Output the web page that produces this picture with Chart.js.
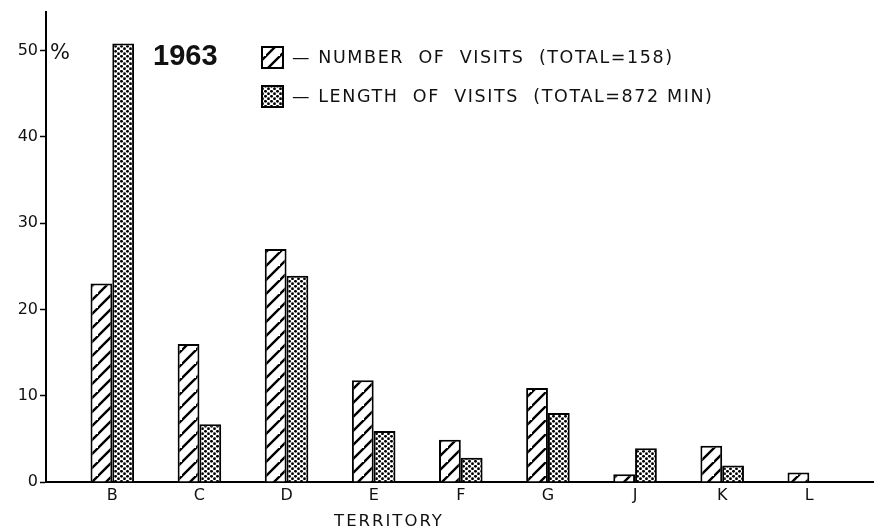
<!DOCTYPE html>
<html>
<head>
<meta charset="utf-8">
<script src="https://cdn.jsdelivr.net/npm/chart.js@4.4.1/dist/chart.umd.min.js"></script>
<style>
  html, body { margin: 0; padding: 0; background: #ffffff; }
  #wrap { width: 874px; height: 532px; position: relative; }
</style>
</head>
<body>
<div id="wrap"><canvas id="c" width="874" height="532"></canvas></div>
<script>
const categories = ['B', 'C', 'D', 'E', 'F', 'G', 'J', 'K', 'L'];
const numberOfVisits = [23, 16, 27, 11.8, 4.9, 10.9, 0.9, 4.2, 1.1];
const lengthOfVisits = [50.8, 6.7, 23.9, 5.9, 2.8, 8.0, 3.9, 1.9, 0];
const yTicks = [0, 10, 20, 30, 40, 50];
const titleText = '1963';
const legendLabels = ['— NUMBER  OF  VISITS  (TOTAL=158)', '— LENGTH  OF  VISITS  (TOTAL=872 MIN)'];
const xTitle = 'TERRITORY';
const yUnit = '%';

const FONT = '"DejaVu Sans", sans-serif';

function makeHatch() {
  const s = 14;
  const c = document.createElement('canvas');
  c.width = s; c.height = s;
  const g = c.getContext('2d');
  g.fillStyle = '#fff'; g.fillRect(0, 0, s, s);
  g.strokeStyle = '#000'; g.lineWidth = 2.4; g.lineCap = 'square';
  g.beginPath();
  g.moveTo(-2, s + 2); g.lineTo(s + 2, -2);
  g.moveTo(-2 - s, s + 2); g.lineTo(2, -2);
  g.moveTo(s - 2, 2 * s + 2); g.lineTo(2 * s + 2, s - 2);
  g.stroke();
  return g.createPattern(c, 'repeat');
}
function makeDots() {
  const w = 6, h = 5;
  const c = document.createElement('canvas');
  c.width = w; c.height = h;
  const g = c.getContext('2d');
  g.fillStyle = '#fff'; g.fillRect(0, 0, w, h);
  g.fillStyle = '#000';
  const pts = [[1.5, 1.25], [4.5, 3.75]];
  for (const [x, y] of pts) { g.beginPath(); g.arc(x, y, 1.4, 0, Math.PI * 2); g.fill(); }
  return g.createPattern(c, 'repeat');
}
const hatch = makeHatch();
const dots = makeDots();

const overlay = {
  id: 'overlay',
  afterDraw(chart) {
    const ctx = chart.ctx;
    const xs = chart.scales.x, ys = chart.scales.y;
    ctx.save();
    ctx.fillStyle = '#111';
    ctx.font = '21px ' + FONT;
    ctx.textBaseline = 'middle';
    ctx.textAlign = 'left';
    ctx.fillText(yUnit, xs.left + 4, ys.getPixelForValue(50) + 3);
    ctx.font = 'bold 29px "Liberation Sans", sans-serif';
    ctx.fillText(titleText, 153, 57);
    const sw = [[262, 47, hatch], [262, 86, dots]];
    ctx.font = '17.5px ' + FONT;
    ctx.letterSpacing = '1.6px';
    sw.forEach(([x, y, p], i) => {
      ctx.fillStyle = p;
      ctx.fillRect(x, y, 21, 21);
      ctx.strokeStyle = '#000'; ctx.lineWidth = 2;
      ctx.strokeRect(x, y, 21, 21);
      ctx.fillStyle = '#111';
      ctx.fillText(legendLabels[i], 292, y + 11);
    });
    ctx.font = '16.5px ' + FONT;
    ctx.letterSpacing = '2px';
    ctx.textAlign = 'center';
    ctx.fillText(xTitle, 389, 522);
    ctx.restore();
  }
};

new Chart(document.getElementById('c'), {
  type: 'bar',
  data: {
    datasets: [
      {
        label: legendLabels[0],
        data: categories.map((c, i) => ({ x: i, y: numberOfVisits[i] })),
        backgroundColor: hatch, borderColor: '#000', borderWidth: 2,
        categoryPercentage: 0.5, barPercentage: 1.0
      },
      {
        label: legendLabels[1],
        data: categories.map((c, i) => ({ x: i, y: lengthOfVisits[i] })),
        backgroundColor: dots, borderColor: '#000', borderWidth: 2,
        categoryPercentage: 0.5, barPercentage: 1.0
      }
    ]
  },
  options: {
    responsive: false,
    animation: false,
    layout: { padding: { top: 7, right: 1, left: 0, bottom: 0 } },
    plugins: { legend: { display: false }, title: { display: false }, tooltip: { enabled: false } },
    scales: {
      x: {
        type: 'linear',
        offset: false,
        min: -0.761, max: 8.731,
        afterBuildTicks: s => { s.ticks = categories.map((c, i) => ({ value: i })); },
        afterFit: s => { s.height = 50; },
        ticks: { callback: v => categories[v] ?? '', color: '#111', font: { family: 'DejaVu Sans', size: 16 }, padding: 4, maxRotation: 0, autoSkip: false },
        grid: { display: false, drawTicks: false },
        border: { display: true, color: '#000', width: 2 }
      },
      y: {
        min: 0, max: 54.5,
        afterBuildTicks: s => { s.ticks = yTicks.map(v => ({ value: v })); },
        afterFit: s => { s.width = 46; },
        ticks: { color: '#111', font: { family: 'DejaVu Sans', size: 16 }, padding: 2 },
        grid: { drawOnChartArea: false, drawTicks: true, tickLength: 6, tickWidth: 1.5, tickColor: '#000' },
        border: { display: true, color: '#000', width: 2 }
      }
    }
  },
  plugins: [overlay]
});
</script>
</body>
</html>
